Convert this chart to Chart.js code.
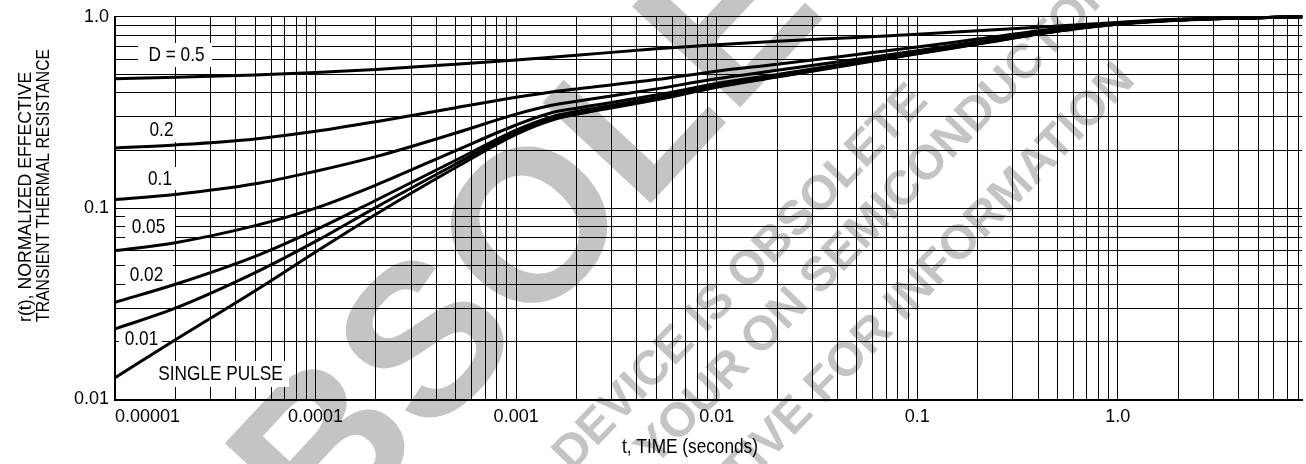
<!DOCTYPE html>
<html>
<head>
<meta charset="utf-8">
<script src="https://cdn.jsdelivr.net/npm/chart.js@4/dist/chart.umd.min.js"></script>
<style>
  html, body { margin: 0; padding: 0; background: #fff; }
  #chart { display: block; }
</style>
</head>
<body>
<canvas id="chart" width="1306" height="464" style="width:1306px;height:464px"></canvas>
<script>
// t, TIME (seconds)
const times = [1e-5, 2e-5, 5e-5, 1e-4, 2e-4, 5e-4, 1e-3, 1.5e-3, 2e-3, 5e-3, 1e-2, 2e-2, 5e-2, 0.1, 0.2, 0.5, 1, 2, 5, 8.3];

// r(t), one list per duty cycle
const dutyHalf   = [0.475, 0.483, 0.497, 0.511, 0.530, 0.565, 0.595, 0.615, 0.630, 0.680, 0.715, 0.745, 0.780, 0.810, 0.845, 0.895, 0.935, 0.972, 0.990, 1.0];
const duty02     = [0.206, 0.214, 0.230, 0.252, 0.283, 0.335, 0.380, 0.405, 0.420, 0.470, 0.520, 0.565, 0.635, 0.695, 0.765, 0.868, 0.928, 0.968, 0.990, 1.0];
const duty01     = [0.111, 0.118, 0.134, 0.156, 0.186, 0.247, 0.310, 0.345, 0.362, 0.420, 0.475, 0.525, 0.600, 0.665, 0.740, 0.855, 0.922, 0.965, 0.990, 1.0];
const duty005    = [0.060, 0.066, 0.081, 0.100, 0.132, 0.200, 0.272, 0.315, 0.333, 0.390, 0.448, 0.500, 0.582, 0.652, 0.730, 0.848, 0.919, 0.963, 0.990, 1.0];
const duty002    = [0.0322, 0.040, 0.056, 0.077, 0.110, 0.178, 0.256, 0.300, 0.320, 0.378, 0.438, 0.492, 0.576, 0.646, 0.726, 0.845, 0.917, 0.962, 0.990, 1.0];
const duty001    = [0.0234, 0.030, 0.046, 0.067, 0.101, 0.170, 0.250, 0.294, 0.315, 0.374, 0.434, 0.488, 0.573, 0.643, 0.723, 0.843, 0.916, 0.961, 0.990, 1.0];
const singlePulse = [0.013, 0.0205, 0.037, 0.059, 0.093, 0.163, 0.243, 0.288, 0.309, 0.368, 0.428, 0.484, 0.569, 0.640, 0.720, 0.841, 0.915, 0.960, 0.990, 1.0];

const seriesNames = ["D = 0.5", "0.2", "0.1", "0.05", "0.02", "0.01", "SINGLE PULSE"];
const seriesValues = [dutyHalf, duty02, duty01, duty005, duty002, duty001, singlePulse];

// decade tick labels
const xDecades = [1e-5, 1e-4, 1e-3, 1e-2, 1e-1, 1];
const xTickLabels = ["0.00001", "0.0001", "0.001", "0.01", "0.1", "1.0"];
const yDecades = [0.01, 0.1, 1];
const yTickLabels = ["0.01", "0.1", "1.0"];

const FONT = '"Liberation Sans", Arial, sans-serif';
const NARROW = 0.82; // the datasheet uses a condensed face, squeeze the regular one

// 1..9 x 10^n grid lines between min and max
function gridValues(min, max) {
	const out = [];
	for (let e = Math.floor(Math.log10(min)); e <= Math.ceil(Math.log10(max)); e++) {
		for (let m = 1; m <= 9; m++) {
			const v = Number((m * Math.pow(10, e)).toPrecision(4));
			if (v >= min * 0.9999 && v <= max * 1.0001) out.push(v);
		}
	}
	return out;
}

function labelFor(value, decades, labels) {
	const i = decades.findIndex((d) => Math.abs(Math.log10(d) - Math.log10(value)) < 1e-6);
	return i === -1 ? "" : labels[i];
}

function narrowText(ctx, text, x, y, size, align, squeeze = NARROW) {
	ctx.save();
	ctx.translate(x, y);
	ctx.scale(squeeze, 1);
	ctx.font = size + "px " + FONT;
	ctx.textAlign = align;
	ctx.textBaseline = "middle";
	ctx.fillText(text, 0, 0);
	ctx.restore();
}

const datasets = seriesValues.map((vals, idx) => ({
	label: seriesNames[idx],
	data: times.map((t, i) => ({ x: t, y: vals[i] })),
	borderColor: "#000",
	borderWidth: 3,
	pointRadius: 0,
	fill: false,
	cubicInterpolationMode: "monotone",
	clip: false,
}));

// curve labels sit in small white boxes that blank the grid behind them
const curveLabels = [
	{ text: "D = 0.5", box: [138, 43, 212, 67], at: [176.5, 55] },
	{ text: "0.2", box: [140, 117, 178, 142], at: [161.5, 130] },
	{ text: "0.1", box: [141, 167, 178, 190], at: [160, 179.5] },
	{ text: "0.05", box: [125, 215, 175, 240], at: [148.5, 227.5] },
	{ text: "0.02", box: [125, 262, 173, 288], at: [146.5, 275] },
	{ text: "0.01", box: [119, 330, 162, 350], at: [141.5, 339] },
	{ text: "SINGLE PULSE", box: [152, 361, 289, 387], at: [220.5, 374] },
];

const watermark = {
	id: "watermark",
	beforeDraw(chart) {
		const ctx = chart.ctx;
		ctx.save();
		ctx.fillStyle = "#fff";
		ctx.fillRect(0, 0, chart.width, chart.height);
		ctx.fillStyle = "#c4c4c4";
		ctx.textBaseline = "middle";

		ctx.save();
		ctx.translate(569, 204);
		ctx.rotate(-47 * Math.PI / 180);
		ctx.textAlign = "center";
		ctx.font = "bold 215px " + FONT;
		ctx.fillText("OBSOLETE", 0, 0);
		ctx.restore();

		const lines = [
			{ text: "DEVICE IS OBSOLETE", at: [920, 93], align: "right" },
			{ text: "YOUR ON SEMICONDUCTOR", at: [645, 458], align: "left" },
			{ text: "REPRESENTATIVE FOR INFORMATION", at: [1127, 72], align: "right" },
		];
		ctx.font = "bold 48px " + FONT;
		lines.forEach((l) => {
			ctx.save();
			ctx.translate(l.at[0], l.at[1]);
			ctx.rotate(-46 * Math.PI / 180);
			ctx.textAlign = l.align;
			ctx.fillText(l.text, 0, 0);
			ctx.restore();
		});
		ctx.restore();
	},
};

const annotations = {
	id: "annotations",
	beforeDatasetsDraw(chart) {
		const ctx = chart.ctx;
		ctx.save();
		curveLabels.forEach(({ text, box, at }) => {
			ctx.fillStyle = "#fff";
			ctx.fillRect(box[0], box[1], box[2] - box[0], box[3] - box[1]);
			ctx.fillStyle = "#000";
			narrowText(ctx, text, at[0], at[1], 21, "center");
		});
		ctx.restore();
	},
	afterDraw(chart) {
		const ctx = chart.ctx;
		ctx.save();
		ctx.fillStyle = "#000";
		narrowText(ctx, "t, TIME (seconds)", 690, 447, 21, "center");

		ctx.translate(0, 322);
		ctx.rotate(-Math.PI / 2);
		narrowText(ctx, "r(t), NORMALIZED EFFECTIVE", 0, 25.5, 19, "left", 0.93);
		narrowText(ctx, "TRANSIENT THERMAL RESISTANCE", 0, 44, 19, "left", 0.83);
		ctx.restore();
	},
};

new Chart(document.getElementById("chart"), {
	type: "line",
	data: { datasets },
	options: {
		responsive: false,
		animation: false,
		events: [],
		layout: { padding: { left: 0, right: 2, top: 14.5, bottom: 0 } },
		plugins: {
			legend: { display: false },
			tooltip: { enabled: false },
		},
		scales: {
			x: {
				type: "logarithmic",
				min: 1e-5,
				max: 8.3,
				afterBuildTicks: (scale) => {
					scale.ticks = gridValues(1e-5, 8.3).map((v) => ({ value: v }));
				},
				afterFit: (scale) => {
					scale.height = 64.5;
				},
				grid: { color: "#000", lineWidth: 1, drawTicks: false },
				border: { color: "#000", width: 2 },
				ticks: {
					autoSkip: false,
					maxRotation: 0,
					align: "inner",
					padding: 7,
					color: "#000",
					font: { family: FONT, size: 18 },
					callback: (value) => labelFor(value, xDecades, xTickLabels),
				},
			},
			y: {
				type: "logarithmic",
				min: 0.01,
				max: 1,
				afterBuildTicks: (scale) => {
					scale.ticks = gridValues(0.01, 1).map((v) => ({ value: v }));
				},
				afterFit: (scale) => {
					scale.width = 115;
				},
				grid: { color: "#000", lineWidth: 1, drawTicks: false },
				border: { color: "#000", width: 2 },
				ticks: {
					autoSkip: false,
					padding: 6,
					color: "#000",
					font: { family: FONT, size: 18 },
					callback: (value) => labelFor(value, yDecades, yTickLabels),
				},
			},
		},
	},
	plugins: [watermark, annotations],
});
</script>
</body>
</html>
